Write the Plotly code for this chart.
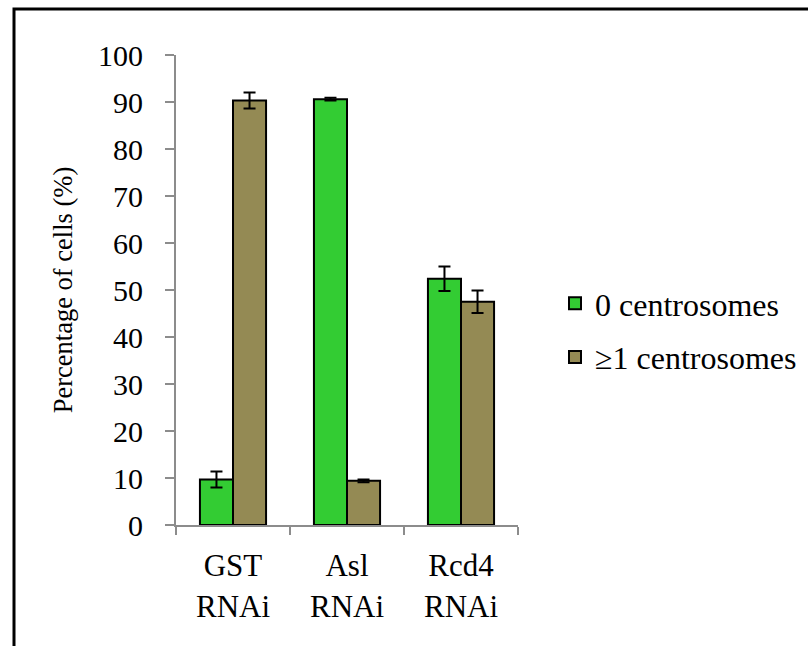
import plotly.graph_objects as go

# Centrosome counts per RNAi condition
categories = ["GST<br>RNAi", "Asl<br>RNAi", "Rcd4<br>RNAi"]
zero_centrosomes = [9.7, 90.6, 52.4]
zero_err = [1.7, 0.3, 2.6]
one_plus_centrosomes = [90.3, 9.4, 47.5]
one_plus_err = [1.7, 0.3, 2.4]
y_ticks = [0, 10, 20, 30, 40, 50, 60, 70, 80, 90, 100]

FONT = "Liberation Serif"
W, H = 808, 646
L, R, T, B = 176, 290, 55, 121

fig = go.Figure()
fig.add_trace(go.Bar(
    x=categories, y=zero_centrosomes, name="0 centrosomes",
    legendgroup="a",
    marker=dict(color="#33CC33", line=dict(color="black", width=2)),
    error_y=dict(type="data", array=zero_err, color="black", thickness=2, width=6),
))
fig.add_trace(go.Bar(
    x=categories, y=one_plus_centrosomes, name="≥1 centrosomes",
    legendgroup="b",
    marker=dict(color="#948A54", line=dict(color="black", width=2)),
    error_y=dict(type="data", array=one_plus_err, color="black", thickness=2, width=6),
))

pw, ph = W - L - R, H - T - B


def px_x(p):
    return (p - L) / pw


def px_y(p):
    return (H - B - p) / ph


fig.update_layout(
    width=W, height=H,
    margin=dict(l=L, r=R, t=T, b=B, pad=0, autoexpand=False),
    paper_bgcolor="white", plot_bgcolor="white",
    barmode="group", bargap=0.42, bargroupgap=0,
    font=dict(family=FONT, color="black", size=30),
    showlegend=True,
    legend=dict(
        x=px_x(555), y=px_y(276), xanchor="left", yanchor="top",
        font=dict(family=FONT, size=32, color="black"),
        traceorder="grouped", tracegroupgap=9, itemwidth=30,
        bgcolor="rgba(0,0,0,0)",
    ),
    xaxis=dict(
        type="category", showline=True, linecolor="#8c8c8c", linewidth=2,
        ticks="outside", ticklen=8, tickcolor="#8c8c8c", tickwidth=2,
        tickson="boundaries", showgrid=False, zeroline=False,
        tickfont=dict(family=FONT, size=31), ticklabelstandoff=12,
    ),
    yaxis=dict(
        range=[0, 100], tickvals=y_ticks, showline=True, linecolor="#8c8c8c",
        linewidth=2, ticks="outside", ticklen=9, tickcolor="#8c8c8c", tickwidth=2,
        showgrid=False, zeroline=False, tickfont=dict(family=FONT, size=30),
        ticklabelstandoff=16,
        title=dict(text="Percentage of cells (%)",
                   font=dict(family=FONT, size=26.5), standoff=18),
    ),
    shapes=[dict(
        type="rect", xref="paper", yref="paper",
        x0=px_x(14), x1=px_x(840), y0=px_y(680), y1=px_y(9),
        line=dict(color="black", width=3), fillcolor="rgba(0,0,0,0)", layer="below",
    )],
)

fig.write_html("out.html")
